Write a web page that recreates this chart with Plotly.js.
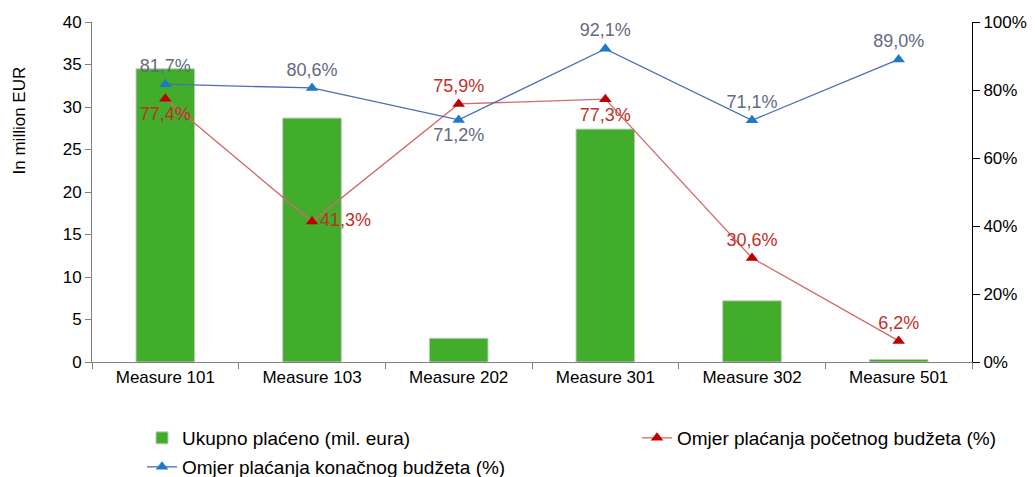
<!DOCTYPE html>
<html>
<head>
<meta charset="utf-8">
<script src="https://cdn.plot.ly/plotly-3.0.1.min.js"></script>
<style>html,body{margin:0;padding:0;background:#fff;}#chart{width:1035px;height:477px;}</style>
</head>
<body>
<div id="chart"></div>
<script>
const categories = ["Measure 101", "Measure 103", "Measure 202", "Measure 301", "Measure 302", "Measure 501"];
const paidTotal = [34.5, 28.7, 2.8, 27.4, 7.2, 0.3];
const initialBudgetRatio = [77.4, 41.3, 75.9, 77.3, 30.6, 6.2];
const finalBudgetRatio = [81.7, 80.6, 71.2, 92.1, 71.1, 89.0];
const initialLabelPos = ["bottom center", "middle right", "top center", "bottom center", "top center", "top center"];
const finalLabelPos = ["top center", "top center", "bottom center", "top center", "top center", "top center"];
const seriesNames = ["Ukupno plaćeno (mil. eura)", "Omjer plaćanja početnog budžeta (%)", "Omjer plaćanja konačnog budžeta (%)"];
const leftTicks = [0, 5, 10, 15, 20, 25, 30, 35, 40];
const rightTicks = [0, 20, 40, 60, 80, 100];

const fmt = v => v.toFixed(1).replace('.', ',') + '%';
const font = "Liberation Sans, Arial, sans-serif";

const traces = [
  {
    type: 'bar', x: categories, y: paidTotal, name: seriesNames[0], legend: 'legend',
    width: 0.4,
    marker: {color: '#41AD2B', line: {color: '#C8C8C8', width: 1}},
    hoverinfo: 'skip'
  },
  {
    type: 'scatter', mode: 'lines+markers+text', x: categories, y: initialBudgetRatio, yaxis: 'y2',
    name: seriesNames[1], legend: 'legend2',
    line: {color: '#D46A6A', width: 1.3},
    marker: {symbol: 'triangle-up', size: 11, color: '#C00000'},
    text: initialBudgetRatio.map(fmt), textposition: initialLabelPos,
    textfont: {family: font, size: 18, color: '#C0302A'},
    cliponaxis: false
  },
  {
    type: 'scatter', mode: 'lines+markers+text', x: categories, y: finalBudgetRatio, yaxis: 'y2',
    name: seriesNames[2], legend: 'legend3',
    line: {color: '#4A6DB5', width: 1.3},
    marker: {symbol: 'triangle-up', size: 11, color: '#1F78C8'},
    text: finalBudgetRatio.map(fmt), textposition: finalLabelPos,
    textfont: {family: font, size: 18, color: '#5F6B80'},
    cliponaxis: false
  }
];

const legendBase = {
  xref: 'container', yref: 'container', xanchor: 'left', yanchor: 'top',
  font: {family: font, size: 19, color: '#000'}, bgcolor: 'rgba(0,0,0,0)'
};

const layout = {
  width: 1035, height: 477,
  margin: {l: 92, r: 63, t: 22, b: 115, autoexpand: false},
  paper_bgcolor: '#fff', plot_bgcolor: '#fff',
  font: {family: font, size: 17, color: '#000'},
  showlegend: true,
  xaxis: {
    type: 'category', showline: true, linecolor: '#808080', linewidth: 1,
    ticks: 'outside', tickson: 'boundaries', ticklen: 6, tickcolor: '#808080',
    showgrid: false, zeroline: false, tickfont: {family: font, size: 17, color: '#000'}
  },
  yaxis: {
    range: [0, 40], tickvals: leftTicks, showline: true, linecolor: '#808080', linewidth: 1,
    ticks: 'outside', ticklen: 6, tickcolor: '#808080', showgrid: false, zeroline: false,
    tickfont: {family: font, size: 17, color: '#000'}
  },
  yaxis2: {
    range: [0, 100], tickvals: rightTicks, ticktext: rightTicks.map(v => v + '%'),
    overlaying: 'y', side: 'right', showline: true, linecolor: '#000', linewidth: 1,
    ticks: 'outside', ticklen: 7, tickcolor: '#000', showgrid: false, zeroline: false,
    tickfont: {family: font, size: 17, color: '#000'}
  },
  legend: Object.assign({}, legendBase, {x: 142 / 1035, y: (477 - 419) / 477}),
  legend2: Object.assign({}, legendBase, {x: 637 / 1035, y: (477 - 419) / 477}),
  legend3: Object.assign({}, legendBase, {x: 142 / 1035, y: (477 - 448) / 477}),
  annotations: [{
    text: 'In million EUR', xref: 'paper', yref: 'paper', x: -0.082, y: 0.71,
    textangle: -90, showarrow: false, xanchor: 'center', yanchor: 'middle',
    font: {family: font, size: 17, color: '#000'}
  }]
};

Plotly.newPlot('chart', traces, layout, {displayModeBar: false, staticPlot: true});
</script>
</body>
</html>
